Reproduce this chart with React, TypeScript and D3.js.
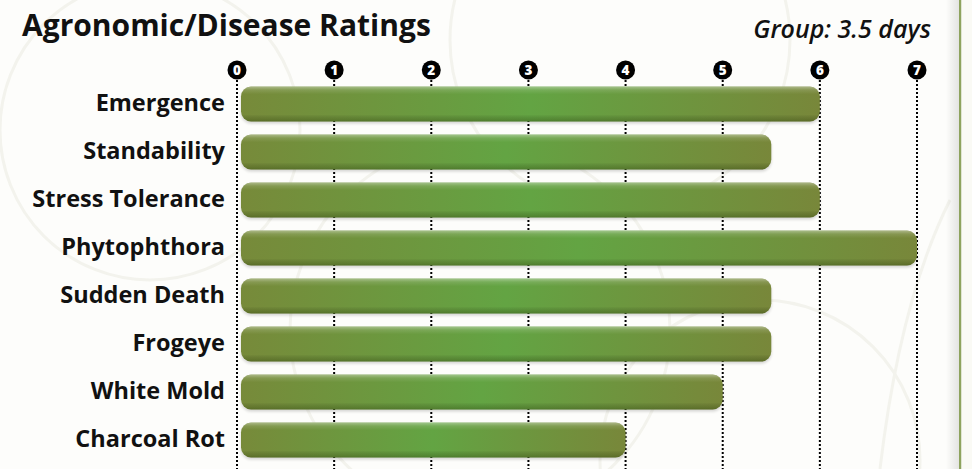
import React from "react";
import * as d3 from "d3";

const categories = [
  "Emergence",
  "Standability",
  "Stress Tolerance",
  "Phytophthora",
  "Sudden Death",
  "Frogeye",
  "White Mold",
  "Charcoal Rot",
];
const ratings = [6, 5.5, 6, 7, 5.5, 5.5, 5, 4];
const ticks = [0, 1, 2, 3, 4, 5, 6, 7];
const title = "Agronomic/Disease Ratings";
const subtitle = "Group: 3.5 days";

const W = 972;
const H = 469;

export default function App() {
  const x = d3.scaleLinear().domain([0, 7]).range([237, 917]);
  const y = d3
    .scaleBand<string>()
    .domain(categories)
    .range([80, 464])
    .paddingInner(0.27)
    .paddingOuter(0.135);
  const bw = y.bandwidth();
  const font = "'Open Sans', Roboto, sans-serif";

  return (
    <div style={{ position: "fixed", left: 0, top: 0, width: W, height: H }}>
      <svg width={W} height={H} style={{ display: "block" }}>
        <defs>
          <linearGradient id="barH" x1="0" x2="1" y1="0" y2="0">
            <stop offset="0" stopColor="#778a3a" />
            <stop offset="0.5" stopColor="#63a443" />
            <stop offset="1" stopColor="#78873a" />
          </linearGradient>
          <linearGradient id="barV" x1="0" x2="0" y1="0" y2="1">
            <stop offset="0" stopColor="#ffffff" stopOpacity="0.4" />
            <stop offset="0.1" stopColor="#ffffff" stopOpacity="0.12" />
            <stop offset="0.22" stopColor="#ffffff" stopOpacity="0" />
            <stop offset="0.8" stopColor="#000000" stopOpacity="0" />
            <stop offset="0.93" stopColor="#1a2a00" stopOpacity="0.2" />
            <stop offset="1" stopColor="#1a2a00" stopOpacity="0.32" />
          </linearGradient>
          <linearGradient id="shadowR" x1="0" x2="1" y1="0" y2="0">
            <stop offset="0" stopColor="#000" stopOpacity="0" />
            <stop offset="1" stopColor="#000" stopOpacity="0.1" />
          </linearGradient>
          <filter id="soft" x="-5%" y="-30%" width="110%" height="160%">
            <feGaussianBlur stdDeviation="1.5" />
          </filter>
        </defs>

        <rect x={0} y={0} width={W} height={H} fill="#fdfdfb" />
        {/* faint decorative swirls */}
        <g fill="none" stroke="#f3f3ed" strokeWidth={3}>
          <circle cx={150} cy={130} r={150} />
          <circle cx={480} cy={330} r={190} />
          <circle cx={760} cy={460} r={160} />
          <circle cx={620} cy={40} r={170} />
          <path d="M880 469 Q900 300 950 200" />
        </g>

        {/* right strip */}
        <rect x={946} y={0} width={13} height={H} fill="url(#shadowR)" />
        <rect x={959} y={0} width={2.5} height={H} fill="#8ea35e" />
        <rect x={961.5} y={0} width={W - 961.5} height={H} fill="#fafaf5" />

        <text
          x={22}
          y={36}
          fontFamily={font}
          fontWeight={700}
          fontSize={30}
          fill="#111"
        >
          {title}
        </text>
        <text
          x={931}
          y={38}
          textAnchor="end"
          fontFamily={font}
          fontWeight={600}
          fontStyle="italic"
          fontSize={25}
          fill="#111"
        >
          {subtitle}
        </text>

        {/* dotted grid lines */}
        {ticks.map((t) => (
          <line
            key={"g" + t}
            x1={x(t)}
            x2={x(t)}
            y1={80}
            y2={H}
            stroke="#000"
            strokeWidth={2}
            strokeDasharray="2 2"
          />
        ))}

        {/* tick circles */}
        {ticks.map((t) => (
          <g key={"t" + t} transform={`translate(${x(t)},70)`}>
            <circle r={9.5} fill="#000" />
            <text
              y={4.8}
              textAnchor="middle"
              fontFamily={font}
              fontWeight={800}
              fontSize={13.5}
              fill="#fff"
            >
              {t}
            </text>
          </g>
        ))}

        {/* bars */}
        {categories.map((c, i) => {
          const x0 = x(0) + 4;
          const w = x(ratings[i]) - x0;
          const yy = y(c)!;
          return (
            <g key={c}>
              <rect
                x={x0}
                y={yy + 2}
                width={w}
                height={bw}
                rx={10}
                fill="#000"
                opacity={0.16}
                filter="url(#soft)"
              />
              <rect x={x0} y={yy} width={w} height={bw} rx={10} fill="url(#barH)" />
              <rect x={x0} y={yy} width={w} height={bw} rx={10} fill="url(#barV)" />
              <text
                x={225}
                y={yy + bw / 2}
                dy="0.3em"
                textAnchor="end"
                fontFamily={font}
                fontWeight={700}
                fontSize={23.5}
                fill="#111"
              >
                {c}
              </text>
            </g>
          );
        })}
      </svg>
    </div>
  );
}
